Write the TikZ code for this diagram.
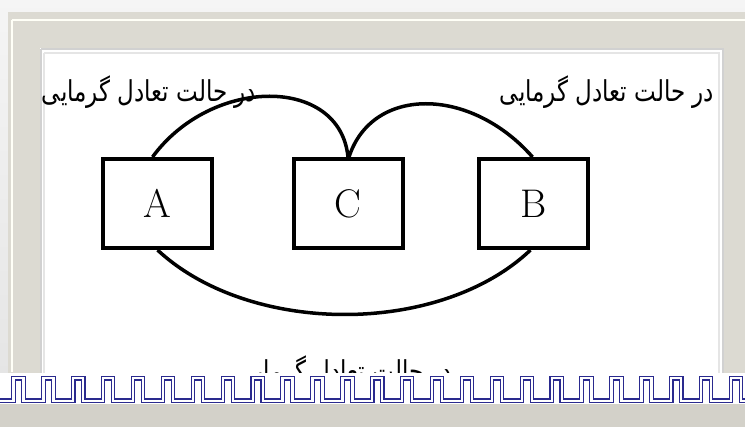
\documentclass[tikz,border=0pt]{standalone}
\usepackage{fontspec}
\newfontfamily\arabicfont[Script=Arabic]{DejaVu Sans}
\TeXXeTstate=1
\usetikzlibrary{shadings}
\definecolor{framec}{HTML}{DCDAD2}
\definecolor{framed}{HTML}{D3D1C9}
\definecolor{meanderc}{HTML}{2A2A8E}
\tikzset{
  sysbox/.style={draw=black,line width=4pt,minimum width=109pt,minimum height=89pt,inner sep=0pt,fill=white,font=\fontsize{40}{48}\selectfont},
  link/.style={line width=3.5pt,black},
  label/.style={font=\arabicfont\fontsize{23}{28}\selectfont,inner sep=0pt,yscale=1.25},
  meander/.style={draw=meanderc,line width=1.1pt,double=white,double distance=2.3pt,line join=miter}
}
\begin{document}
\begin{tikzpicture}[x=1pt,y=-1pt]
\useasboundingbox (0,0) rectangle (745,427);
% outer shadow and frame
\shade[top color=white!96!black,bottom color=white!89!black] (0,0) rectangle (745,427);
\fill[framec] (8,12) rectangle (745,427);
\draw[white!97!yellow,line width=1.2pt] (12,20) -- (745,20);
\draw[white!97!yellow,line width=1.2pt] (12,20) -- (12,372);
\fill[white] (40,48) rectangle (724,376);
\draw[white!82!black,line width=1.5pt] (41,49) -- (41,376);
\draw[white!82!black,line width=1.5pt] (41,49) -- (723,49) -- (723,376);
\draw[white!90!black,line width=2pt] (44,53) -- (44,376);
\draw[white!90!black,line width=2pt] (44,53) -- (719,53) -- (719,376);
% texts
\node[label] (t1) at (149,92) {\beginR در حالت تعادل گرمایی\endR};
\node[label] (t2) at (607,92) {\beginR در حالت تعادل گرمایی\endR};
\node[label] (t3) at (345,372) {\beginR در حالت تعادل گرمایی\endR};
% boxes
\node[sysbox] (A) at (157.5,203.5) {A};
\node[sysbox] (C) at (348,203.5) {C};
\node[sysbox] (B) at (533.5,203.5) {B};
% connectors
\draw[link] ([xshift=-5pt]A.north) .. controls (212,76) and (340,76) .. (C.north);
\draw[link] ([xshift=1pt]C.north) .. controls (372,86) and (470,86) .. ([xshift=-1pt]B.north);
\draw[link] (A.south) .. controls (250,336) and (440,336) .. ([xshift=-3pt]B.south);
% bottom band
\fill[white] (0,373) rectangle (745,404);
\fill[framed] (0,404) rectangle (745,427);
\draw[meander] (-10,400.7) \foreach \k in {0,...,25} { -- ({13.5+29.9*\k},400.7) -- ({13.5+29.9*\k},378.3) -- ({23.5+29.9*\k},378.3) -- ({23.5+29.9*\k},400.7) } -- (760,400.7);
\end{tikzpicture}
\end{document}
